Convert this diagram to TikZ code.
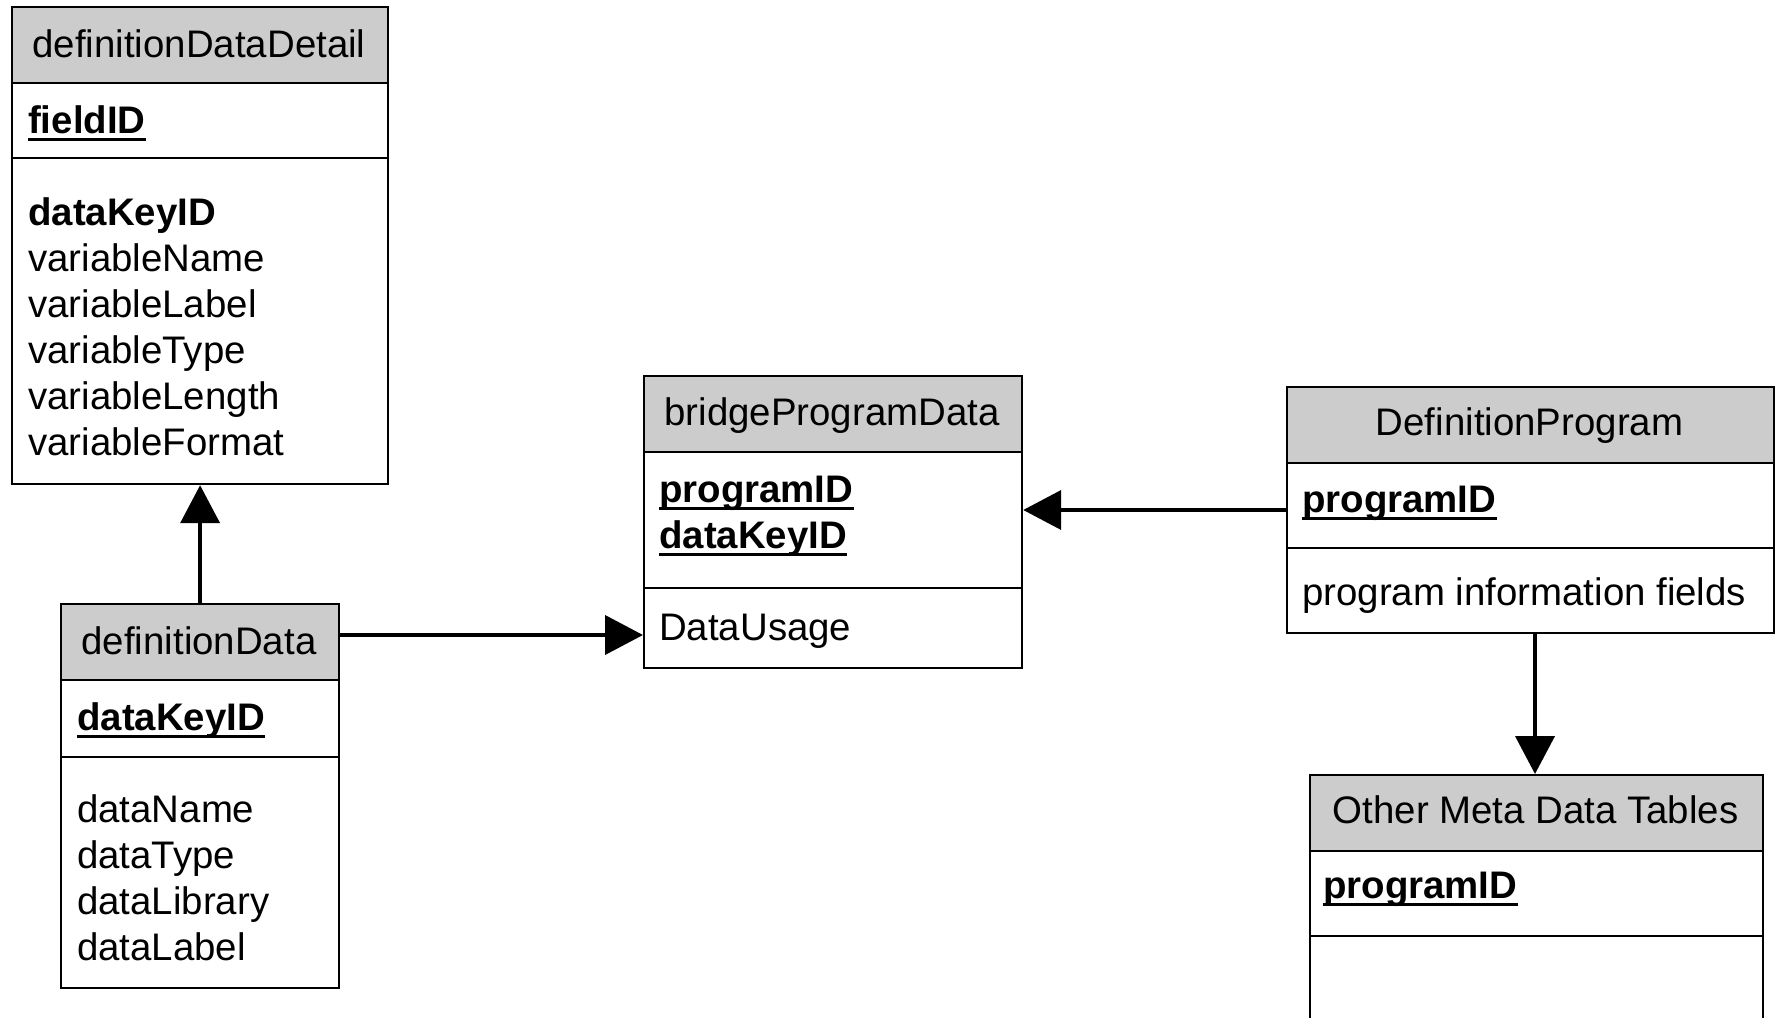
\documentclass[tikz,border=0pt]{standalone}
\usepackage{fontspec}
\setmainfont{Liberation Sans}
\usetikzlibrary{arrows.meta}
\definecolor{hdrgray}{RGB}{204,204,204}
\tikzset{
  tbl/.style={draw, line width=2.2pt, inner sep=0pt, anchor=north west},
  divider/.style={line width=2.2pt},
  txt/.style={anchor=base west, inner sep=0pt, font=\fontsize{38.4}{46}\selectfont},
  keytxt/.style={txt, font=\fontsize{38.4}{46}\selectfont\bfseries},
  htxt/.style={anchor=base, inner sep=0pt, font=\fontsize{38.4}{46}\selectfont},
  uline/.style={line width=3pt},
  conn/.style={line width=4pt, -{Triangle[length=38pt,width=39pt]}},
}
\begin{document}
\begin{tikzpicture}[x=1pt,y=-1pt]
\useasboundingbox (0,0) rectangle (1777,1017);
% header fills
\fill[hdrgray] (11,6) rectangle (387,83);
\fill[hdrgray] (60,603) rectangle (338,680);
\fill[hdrgray] (643,375) rectangle (1021,452);
\fill[hdrgray] (1286,386) rectangle (1773,463);
\fill[hdrgray] (1309,774) rectangle (1762,851);
% tables
\node[tbl, minimum width=376pt, minimum height=477pt] (dd) at (11,6) {};
\node[tbl, minimum width=278pt, minimum height=384pt] (dt) at (60,603) {};
\node[tbl, minimum width=378pt, minimum height=292pt] (bp) at (643,375) {};
\node[tbl, minimum width=487pt, minimum height=246pt] (dp) at (1286,386) {};
\node[tbl, minimum width=453pt, minimum height=280pt] (om) at (1309,774) {};
% dividers
\draw[divider] (11,83) -- (387,83) (11,158) -- (387,158);
\draw[divider] (60,680) -- (338,680) (60,757) -- (338,757);
\draw[divider] (643,452) -- (1021,452) (643,588) -- (1021,588);
\draw[divider] (1286,463) -- (1773,463) (1286,548) -- (1773,548);
\draw[divider] (1309,851) -- (1762,851) (1309,936) -- (1762,936);
% definitionDataDetail
\node[htxt] (ddh) at (199,57) {definitionDataDetail};
\node[keytxt] (ddk) at (28,133) {fieldID};
\draw[uline] ([yshift=-6pt]ddk.base west) -- ([yshift=-6pt]ddk.base east);
\node[keytxt] (dd1) at (28,225) {dataKeyID};
\node[txt] (dd2) at (28,271) {variableName};
\node[txt] (dd3) at (28,317) {variableLabel};
\node[txt] (dd4) at (28,363) {variableType};
\node[txt] (dd5) at (28,409) {variableLength};
\node[txt] (dd6) at (28,455) {variableFormat};
% definitionData
\node[htxt] (dth) at (199,654) {definitionData};
\node[keytxt] (dtk) at (77,730) {dataKeyID};
\draw[uline] ([yshift=-6pt]dtk.base west) -- ([yshift=-6pt]dtk.base east);
\node[txt] (dt1) at (77,822) {dataName};
\node[txt] (dt2) at (77,868) {dataType};
\node[txt] (dt3) at (77,914) {dataLibrary};
\node[txt] (dt4) at (77,960) {dataLabel};
% bridgeProgramData
\node[htxt] (bph) at (832,425) {bridgeProgramData};
\node[keytxt] (bpk1) at (659,502) {programID};
\draw[uline] ([yshift=-6pt]bpk1.base west) -- ([yshift=-6pt]bpk1.base east);
\node[keytxt] (bpk2) at (659,548) {dataKeyID};
\draw[uline] ([yshift=-6pt]bpk2.base west) -- ([yshift=-6pt]bpk2.base east);
\node[txt] (bp1) at (659,640) {DataUsage};
% DefinitionProgram
\node[htxt] (dph) at (1529.5,435) {DefinitionProgram};
\node[keytxt] (dpk) at (1302,512) {programID};
\draw[uline] ([yshift=-6pt]dpk.base west) -- ([yshift=-6pt]dpk.base east);
\node[txt] (dp1) at (1302,605) {program information fields};
% Other Meta Data Tables
\node[htxt] (omh) at (1535.5,823) {Other Meta Data Tables};
\node[keytxt] (omk) at (1323,898) {programID};
\draw[uline] ([yshift=-6pt]omk.base west) -- ([yshift=-6pt]omk.base east);
% connectors
\draw[conn] (dt.north) -- (dd.south);
\draw[conn] (dt.east |- 0,635) -- (bp.west |- 0,635);
\draw[conn] (dp.west |- 0,510) -- (bp.east |- 0,510);
\draw[conn] (dp.south -| 1535,0) -- (om.north -| 1535,0);
\end{tikzpicture}
\end{document}
